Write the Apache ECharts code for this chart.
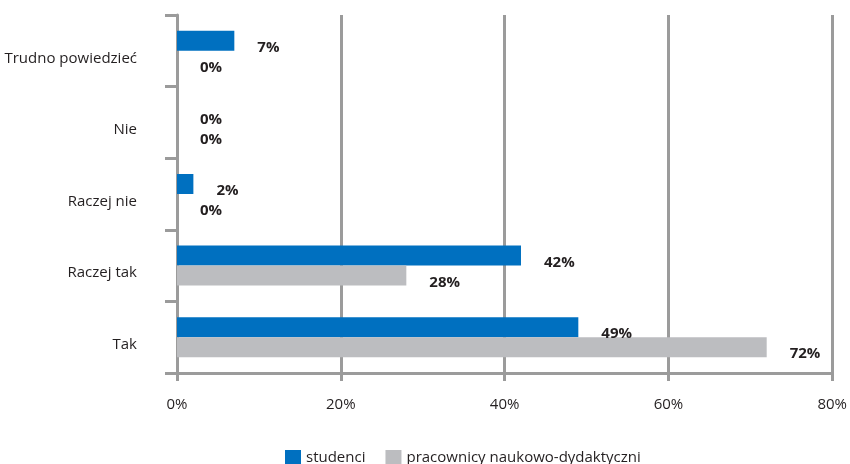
<!DOCTYPE html>
<html>
<head>
<meta charset="utf-8">
<script src="https://cdn.jsdelivr.net/npm/echarts@6/dist/echarts.min.js"></script>
<style>
  html, body { margin: 0; padding: 0; background: #fff; }
  #chart { width: 850px; height: 464px; }
</style>
</head>
<body>
<div id="chart"></div>
<script>
// categories bottom -> top
var categories = ['Tak', 'Raczej tak', 'Raczej nie', 'Nie', 'Trudno powiedzieć']
var studenci = [49, 42, 2, 0, 7]
var pracownicy = [72, 28, 0, 0, 0]
var xTicks = { min: 0, max: 80, interval: 20 }

var lineGray = '#9b9b9b'
var font = 'Open Sans'

var labelStyle = {
  show: true,
  position: 'right',
  distance: 23,
  offset: [0, 7],
  formatter: '{c}%',
  fontFamily: font,
  fontWeight: 'bold',
  fontSize: 15,
  color: '#231f20'
}

var chart = echarts.init(document.getElementById('chart'))
chart.setOption({
  animation: false,
  grid: { left: 177, right: 13, top: 15, bottom: 91 },
  legend: {
    left: 280,
    top: 445,
    itemWidth: 16,
    itemHeight: 16,
    itemGap: 20,
    icon: 'rect',
    textStyle: { fontFamily: font, fontSize: 15, color: '#231f20' },
    data: ['studenci', 'pracownicy naukowo-dydaktyczni']
  },
  xAxis: {
    type: 'value',
    min: xTicks.min,
    max: xTicks.max,
    interval: xTicks.interval,
    axisLine: { show: true, lineStyle: { color: lineGray, width: 3 } },
    axisTick: { show: true, length: 8, lineStyle: { color: lineGray, width: 3 } },
    splitLine: { show: true, lineStyle: { color: lineGray, width: 3 } },
    axisLabel: {
      formatter: '{value}%',
      margin: 24,
      fontFamily: font,
      fontSize: 15,
      color: '#231f20'
    }
  },
  yAxis: {
    type: 'category',
    data: categories,
    axisLine: { show: true, lineStyle: { color: lineGray, width: 3 } },
    axisTick: { show: true, length: 12, lineStyle: { color: lineGray, width: 3 } },
    axisLabel: {
      margin: 40,
      verticalAlign: 'top',
      fontFamily: font,
      fontSize: 15,
      color: '#231f20'
    }
  },
  series: [
    {
      name: 'studenci',
      type: 'bar',
      data: studenci,
      barWidth: 20,
      barGap: '0%',
      itemStyle: { color: '#0070c0' },
      label: labelStyle
    },
    {
      name: 'pracownicy naukowo-dydaktyczni',
      type: 'bar',
      data: pracownicy,
      barWidth: 20,
      barGap: '0%',
      itemStyle: { color: '#bcbdc0' },
      label: labelStyle
    }
  ]
})
</script>
</body>
</html>
